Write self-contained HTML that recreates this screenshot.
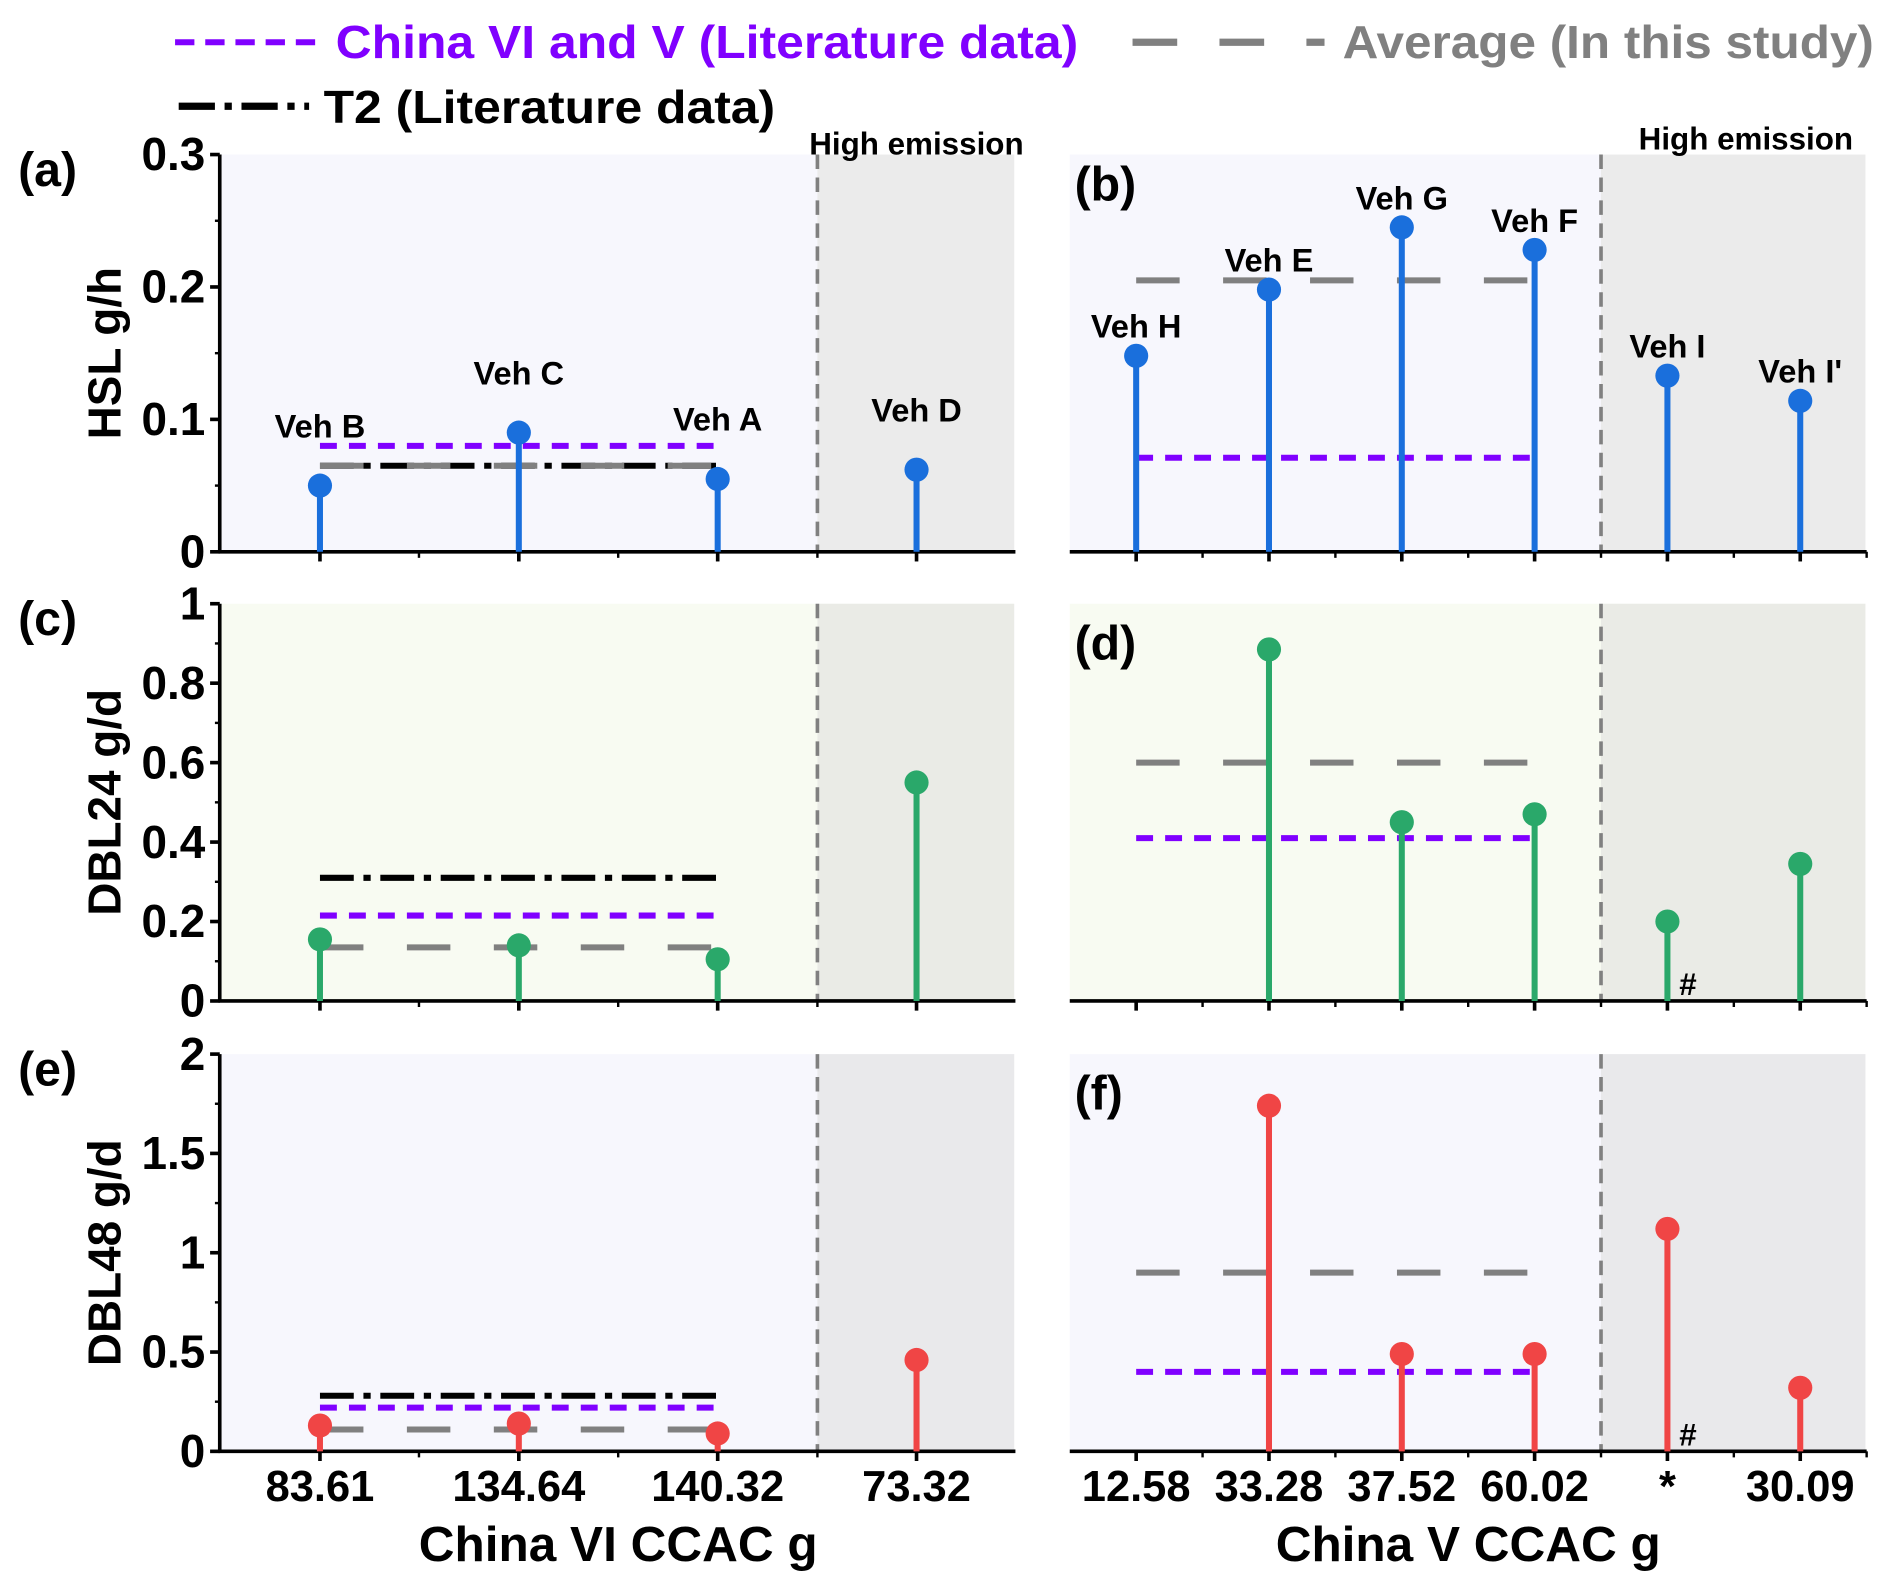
<!DOCTYPE html>
<html><head><meta charset="utf-8"><style>
html,body{margin:0;padding:0;background:#fff}
svg{display:block}
text{font-family:"Liberation Sans",Arial,sans-serif;font-weight:bold}
</style></head><body>
<svg id="chart" width="1892" height="1589" viewBox="0 0 1567 1316" preserveAspectRatio="none" xmlns="http://www.w3.org/2000/svg">
<g id="legend">
<line x1="145" y1="35" x2="262" y2="35" stroke="#8000ff" stroke-width="5" stroke-dasharray="16,9"/>
<text x="278" y="48" font-size="38" fill="#8000ff" textLength="615" lengthAdjust="spacingAndGlyphs">China VI and V (Literature data)</text>
<line x1="938" y1="35" x2="1097" y2="35" stroke="#808080" stroke-width="6" stroke-dasharray="37,35"/>
<text x="1112" y="48" font-size="38" fill="#808080" textLength="440" lengthAdjust="spacingAndGlyphs">Average (In this study)</text>
<line x1="148" y1="88" x2="256" y2="88" stroke="#000" stroke-width="6" stroke-dasharray="30,8,6,8"/>
<text x="268" y="102" font-size="38" fill="#000" textLength="374" lengthAdjust="spacingAndGlyphs">T2 (Literature data)</text>
</g>
<g id="plots"></g>
</svg>
<script>
const leftCats=["83.61","134.64","140.32","73.32"];
const rightCats=["12.58","33.28","37.52","60.02","*","30.09"];
const leftNames=["Veh B","Veh C","Veh A","Veh D"];
const rightNames=["Veh H","Veh E","Veh G","Veh F","Veh I","Veh I'"];
const hslLeft=[0.05,0.09,0.055,0.062];
const hslRight=[0.148,0.198,0.245,0.228,0.133,0.114];
const dbl24Left=[0.155,0.14,0.105,0.55];
const dbl24Right=[null,0.885,0.45,0.47,0.2,0.345];
const dbl48Left=[0.13,0.14,0.09,0.46];
const dbl48Right=[null,1.74,0.49,0.49,1.12,0.32];
const litHSL=[0.08,0.071], avgHSL=[0.065,0.205], t2HSL=0.065;
const lit24=[0.215,0.41], avg24=[0.135,0.6], t224=0.31;
const lit48=[0.22,0.4], avg48=[0.11,0.9], t248=0.28;
const hslTicks=["0","0.1","0.2","0.3"];
const d24Ticks=["0","0.2","0.4","0.6","0.8","1"];
const d48Ticks=["0","0.5","1","1.5","2"];

const NS="http://www.w3.org/2000/svg";
const root=document.getElementById('plots');
function el(tag,attrs,parent,txt){const e=document.createElementNS(NS,tag);for(const k in attrs)e.setAttribute(k,attrs[k]);if(txt!==undefined)e.textContent=txt;(parent||root).appendChild(e);return e;}
const leftX=i=>265+i*164.7;
const rightX=i=>941+i*110;
const rows=[
 {top:128,bot:457,max:0.3,ticks:hslTicks,color:"#1a6fdc",bg:"#f7f7fd",hb:"#ebebeb",L:hslLeft,R:hslRight,lit:litHSL,avg:avgHSL,t2:t2HSL,title:"HSL g/h",lab:["(a)","(b)"]},
 {top:500,bot:829,max:1,ticks:d24Ticks,color:"#2aa86a",bg:"#f8fbf2",hb:"#eaebe6",L:dbl24Left,R:dbl24Right,lit:lit24,avg:avg24,t2:t224,title:"DBL24 g/d",lab:["(c)","(d)"]},
 {top:873,bot:1202,max:2,ticks:d48Ticks,color:"#f04545",bg:"#f7f7fd",hb:"#e9e9eb",L:dbl48Left,R:dbl48Right,lit:lit48,avg:avg48,t2:t248,title:"DBL48 g/d",lab:["(e)","(f)"]}
];
rows.forEach((r,ri)=>{
 const y=v=>r.bot-(v/r.max)*(r.bot-r.top);
 const g=el('g',{});
 
 
 el('rect',{x:182,y:r.top,width:495,height:r.bot-r.top,fill:r.bg},g);
 el('rect',{x:677,y:r.top,width:163,height:r.bot-r.top,fill:r.hb},g);
 el('rect',{x:886,y:r.top,width:440,height:r.bot-r.top,fill:r.bg},g);
 el('rect',{x:1326,y:r.top,width:219,height:r.bot-r.top,fill:r.hb},g);
 el('line',{x1:677,y1:r.top,x2:677,y2:r.bot,stroke:"#808080","stroke-width":3,"stroke-dasharray":"12,7"},g);
 el('line',{x1:1326,y1:r.top,x2:1326,y2:r.bot,stroke:"#808080","stroke-width":3,"stroke-dasharray":"12,7"},g);
 el('line',{x1:182,y1:r.top,x2:182,y2:r.bot+1,stroke:"#000","stroke-width":3},g);
 el('line',{x1:181,y1:r.bot,x2:841,y2:r.bot,stroke:"#000","stroke-width":3},g);
 el('line',{x1:886,y1:r.bot,x2:1546,y2:r.bot,stroke:"#000","stroke-width":3},g);
 r.ticks.forEach((t,i)=>{
  const v=parseFloat(t), yy=y(v);
  el('line',{x1:174,y1:yy,x2:182,y2:yy,stroke:"#000","stroke-width":3},g);
  if(i<r.ticks.length-1){const vm=(v+parseFloat(r.ticks[i+1]))/2;el('line',{x1:178,y1:y(vm),x2:182,y2:y(vm),stroke:"#000","stroke-width":2},g);}
  const tl=el('text',{x:170,y:yy+13,"font-size":38,"text-anchor":"end"},g,t);
  
  
 });
 [347,512,677].forEach(x=>el('line',{x1:x,y1:r.bot,x2:x,y2:r.bot+5,stroke:"#000","stroke-width":2},g));
 leftCats.forEach((c,i)=>el('line',{x1:leftX(i),y1:r.bot,x2:leftX(i),y2:r.bot+8,stroke:"#000","stroke-width":3},g));
 rightCats.forEach((c,i)=>{el('line',{x1:rightX(i),y1:r.bot,x2:rightX(i),y2:r.bot+8,stroke:"#000","stroke-width":3},g);el('line',{x1:rightX(i)+55,y1:r.bot,x2:rightX(i)+55,y2:r.bot+5,stroke:"#000","stroke-width":2},g);});
 const yt=el('text',{x:0,y:0,"font-size":38,"text-anchor":"middle",transform:`translate(100,${(r.top+r.bot)/2}) rotate(-90)`},g,r.title);
 
 
 el('text',{x:15,y:r.top+26,"font-size":40},g,r.lab[0]);
 el('text',{x:890,y:r.top+(ri==0?38:46),"font-size":40},g,r.lab[1]);
 const x0=leftX(0),x1=leftX(2),x2=rightX(0),x3=rightX(3);
 el('line',{x1:x0,y1:y(r.t2),x2:x1,y2:y(r.t2),stroke:"#000","stroke-width":5,"stroke-dasharray":"28,8,6,8"},g);
 el('line',{x1:x0,y1:y(r.avg[0]),x2:x1,y2:y(r.avg[0]),stroke:"#808080","stroke-width":5,"stroke-dasharray":"36,36"},g);
 el('line',{x1:x0,y1:y(r.lit[0]),x2:x1,y2:y(r.lit[0]),stroke:"#8000ff","stroke-width":5,"stroke-dasharray":"14,10"},g);
 el('line',{x1:x2,y1:y(r.avg[1]),x2:x3,y2:y(r.avg[1]),stroke:"#808080","stroke-width":5,"stroke-dasharray":"36,36"},g);
 el('line',{x1:x2,y1:y(r.lit[1]),x2:x3,y2:y(r.lit[1]),stroke:"#8000ff","stroke-width":5,"stroke-dasharray":"14,10"},g);
 const draw=(vals,xf,names,off)=>vals.forEach((v,i)=>{
  if(v===null)return;
  const px=xf(i),py=y(v);
  const m=el('g',{},g);
  
  
  el('line',{x1:px,y1:r.bot,x2:px,y2:py,stroke:r.color,"stroke-width":5},m);
  el('circle',{cx:px,cy:py,r:10,fill:r.color},m);
  if(ri==0)el('text',{x:px,y:py-off,"font-size":27,"text-anchor":"middle"},m,names[i]);
 });
 draw(r.L,leftX,leftNames,40);draw(r.R,rightX,rightNames,15);
 if(ri>0)el('text',{x:1398,y:r.bot-5,"font-size":26,"text-anchor":"middle"},g,"#");
});
const he=el('text',{x:759,y:128,"font-size":26,"text-anchor":"middle"},root,"High emission");


const he2=el('text',{x:1446,y:124,"font-size":26,"text-anchor":"middle"},root,"High emission");


leftCats.forEach((c,i)=>{const t=el('text',{x:leftX(i),y:1243,"font-size":36,"text-anchor":"middle"},root,c);});
rightCats.forEach((c,i)=>{const t=el('text',{x:rightX(i),y:1243,"font-size":36,"text-anchor":"middle"},root,c);});
const xa=el('text',{x:512,y:1293,"font-size":41,"text-anchor":"middle"},root,"China VI CCAC g");


const xb=el('text',{x:1216,y:1293,"font-size":41,"text-anchor":"middle"},root,"China V CCAC g");


</script>
</body></html>
